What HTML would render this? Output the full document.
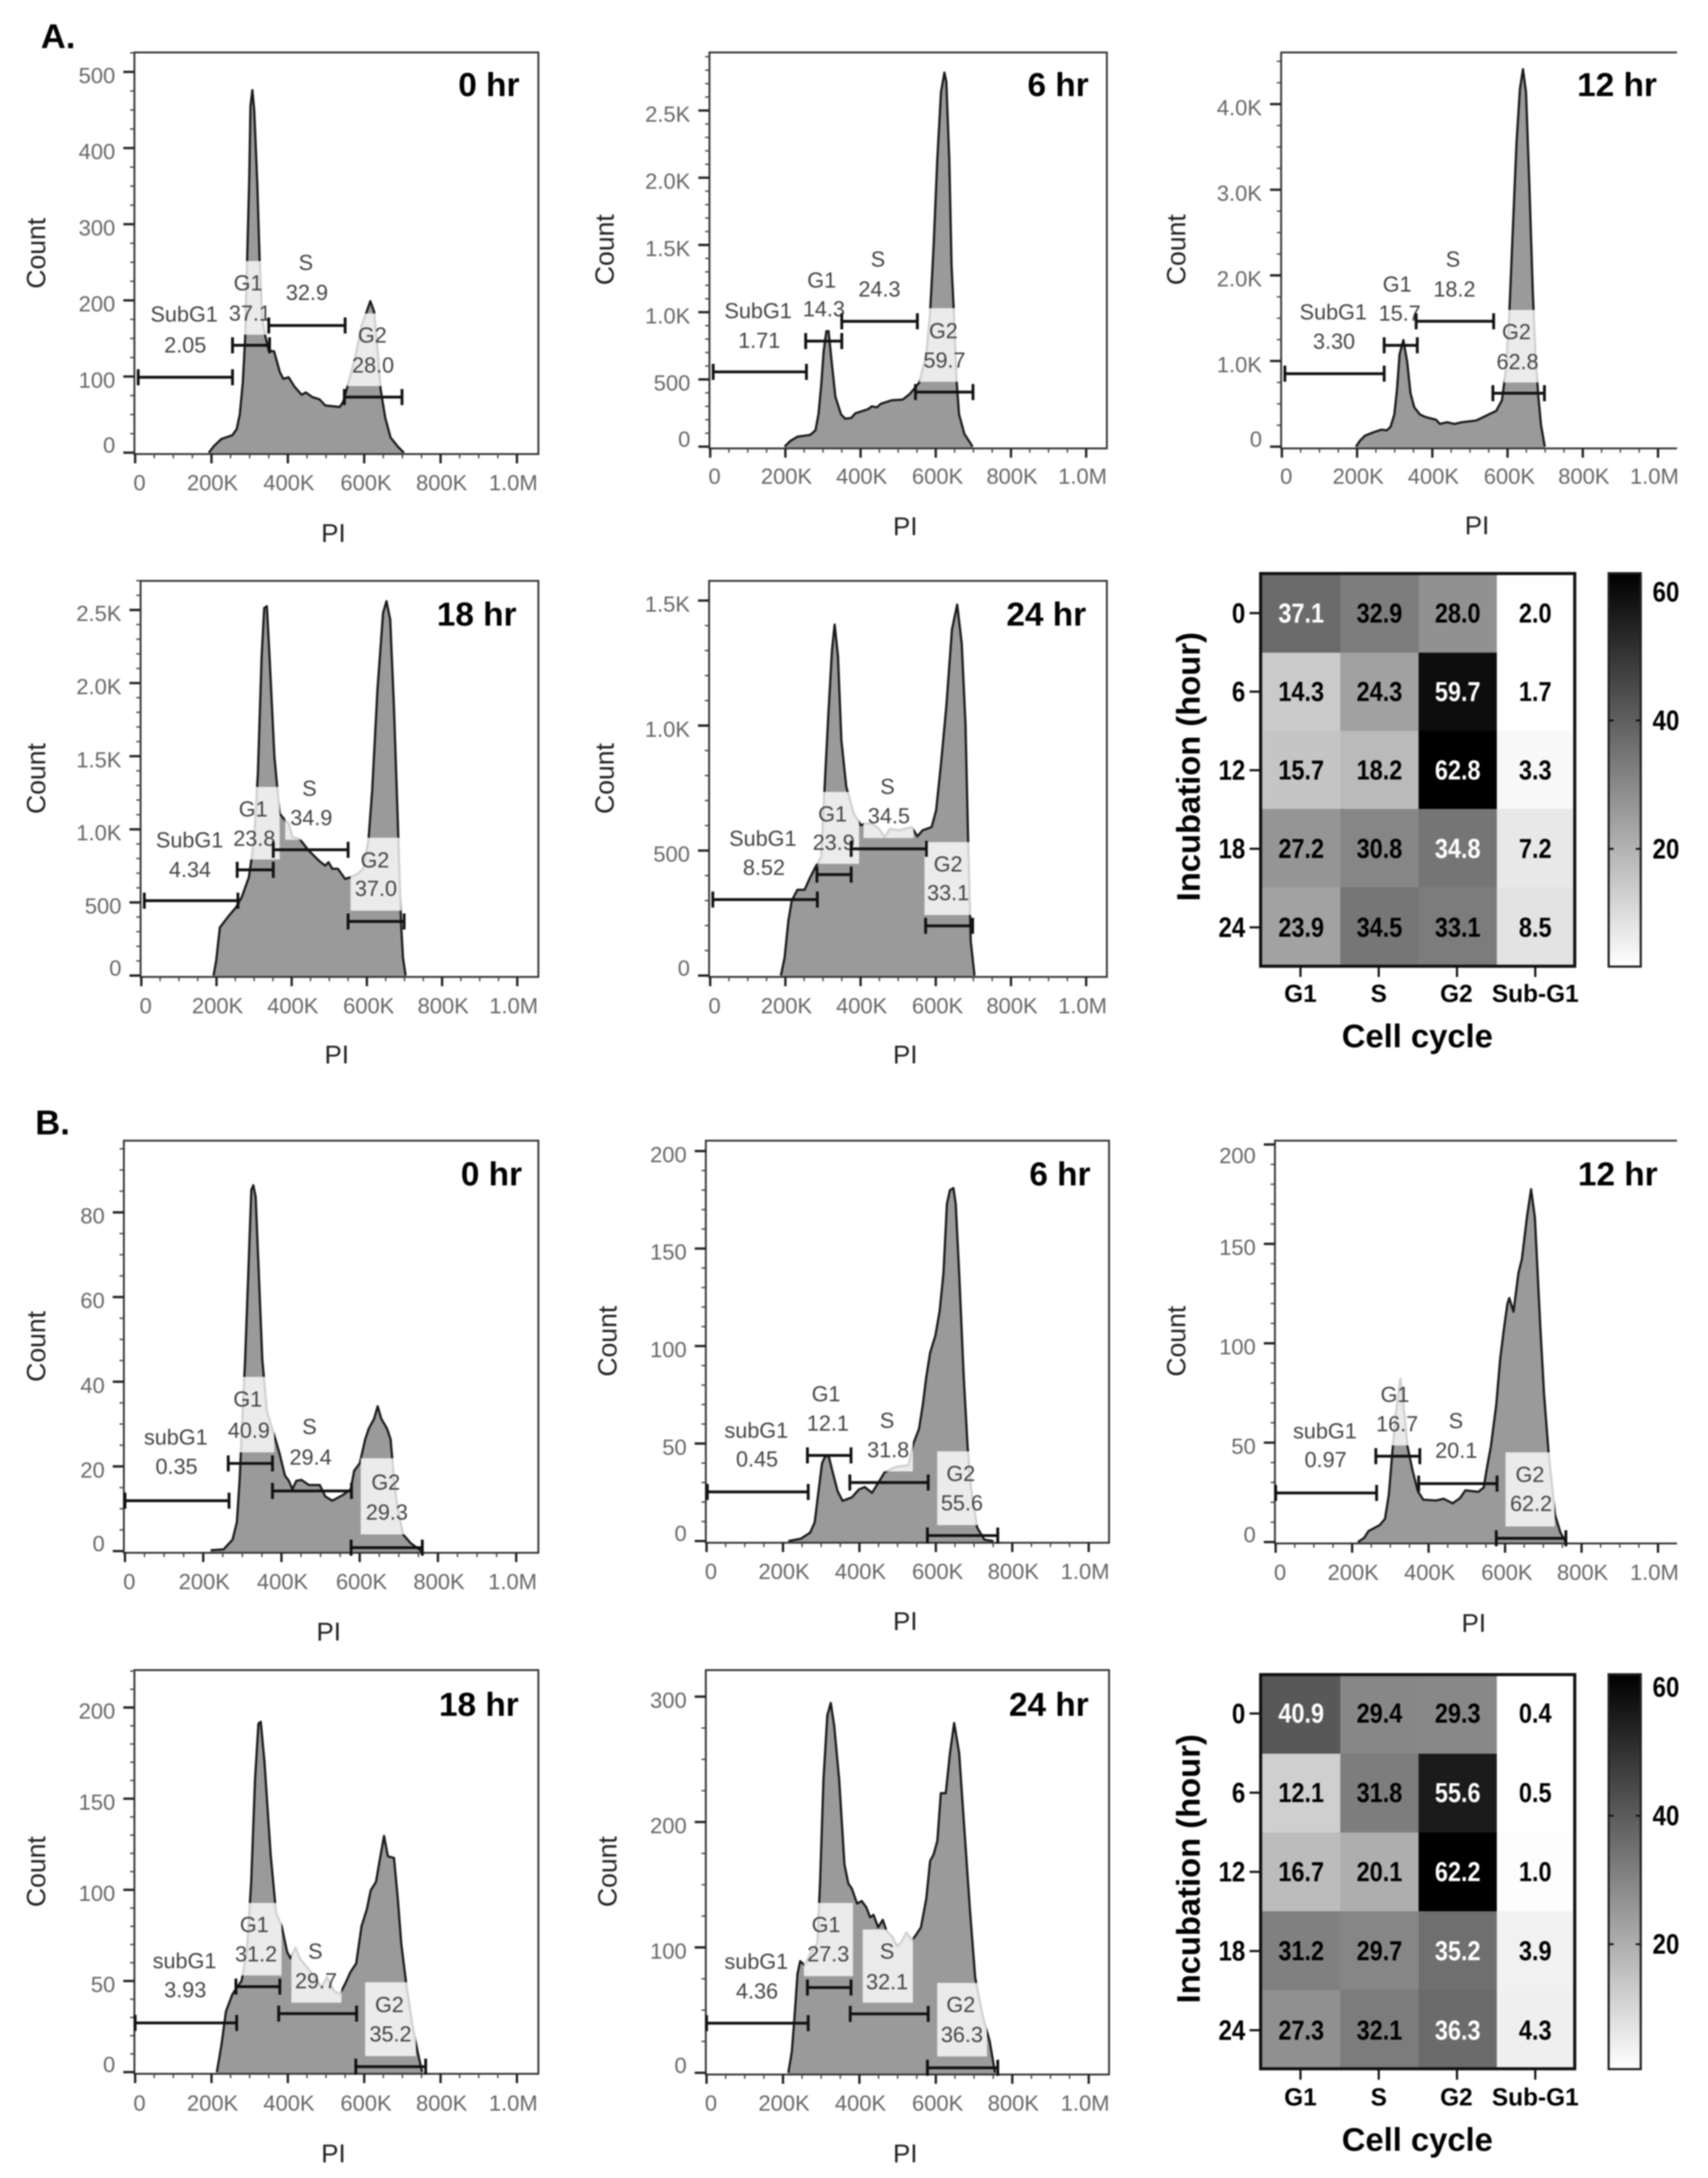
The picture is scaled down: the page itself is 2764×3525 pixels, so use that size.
<!DOCTYPE html>
<html lang="en">
<head>
<meta charset="utf-8">
<title>Cell cycle histograms and heatmaps</title>
<style>
html,body{margin:0;padding:0;background:#fff;}
svg{display:block;filter:blur(1.05px);font-family:"Liberation Sans",Arial,sans-serif;}
</style>
</head>
<body>
<svg id="fig" xmlns="http://www.w3.org/2000/svg" width="2764" height="3525" viewBox="0 0 2764 3525">
<defs>
<linearGradient id="cbGrad" x1="0" y1="1" x2="0" y2="0">
<stop offset="0" stop-color="#ffffff"/>
<stop offset="1" stop-color="#000000"/>
</linearGradient>
</defs>
<rect x="0" y="0" width="2764" height="3525" fill="#ffffff"/>
<text x="66" y="78" font-size="56" font-weight="700" fill="#000">A.</text>
<text x="57" y="1836" font-size="56" font-weight="700" fill="#000">B.</text>
</svg>
<script>
/* ---------- shared axis data ---------- */
const xTicks=[0,200,400,600,800,1000];
const xTickLabels=['0','200K','400K','600K','800K','1.0M'];

/* ---------- panel A histograms ---------- */
const a0Pi=[193,207,226,255,266,274,282,288,293,299,302,307,312,320,326,333,341,350,364,379,388,402,417,436,447,464,483,498,536,545,555,578,593,605,616,626,636,643,655,669,688,704];
const a0Count=[0,9,18,23,31,50,92,148,246,362,455,476,450,353,255,176,153,134,133,106,97,99,87,76,79,73,70,62,60,67,85,129,167,183,199,185,129,83,46,20,8,0];
const a0YTicks=[0,100,200,300,400,500];
const a0YLabels=['0','100','200','300','400','500'];
const a0GateNames=['SubG1','G1','S','G2'];
const a0GatePct=['2.05','37.1','32.9','28.0'];
const a0GateFrom=[8,255,350,548];
const a0GateTo=[255,352,550,699];
const a0GateLevel=[99,141,167,73];

const a6Pi=[198,213,232,266,280,288,295,302,309,315,324,333,348,359,375,386,420,430,443,454,483,512,531,556,575,585,594,604,614,623,628,636,642,649,655,662,676,698];
const a6Count=[0,42,74,87,121,240,450,714,859,859,608,371,240,208,213,248,279,300,292,319,345,350,392,477,688,1004,1478,2136,2637,2782,2716,2136,1346,951,503,240,95,0];
const a6YTicks=[0,500,1000,1500,2000,2500];
const a6YLabels=['0','500','1.0K','1.5K','2.0K','2.5K'];
const a6GateNames=['SubG1','G1','S','G2'];
const a6GatePct=['1.71','14.3','24.3','59.7'];
const a6GateFrom=[8,254,350,546];
const a6GateTo=[256,350,551,699];
const a6GateLevel=[556,785,932,406];

const a12Pi=[197,207,221,245,265,279,289,299,306,313,323,333,342,352,367,381,410,420,439,459,478,517,546,570,585,595,604,614,624,633,641,649,658,667,674,682,689,699];
const a12Count=[0,66,128,170,198,190,232,376,666,1079,1245,997,624,459,376,347,314,265,285,265,285,306,368,418,542,873,1493,2527,3561,4181,4408,4140,3065,1824,1079,583,252,0];
const a12YTicks=[0,1000,2000,3000,4000];
const a12YLabels=['0','1.0K','2.0K','3.0K','4.0K'];
const a12GateNames=['SubG1','G1','S','G2'];
const a12GatePct=['3.30','15.7','18.2','62.8'];
const a12GateFrom=[8,272,357,561];
const a12GateTo=[272,360,563,698];
const a12GateLevel=[852,1183,1464,624];

const a18Pi=[192,199,209,233,252,267,286,300,310,320,327,334,341,354,368,383,392,402,421,445,474,489,498,508,523,542,556,575,590,604,614,628,643,652,662,672,681,691,696,703];
const a18Count=[0,100,329,409,467,535,672,924,1382,2182,2514,2525,2182,1496,1107,1061,1038,947,935,855,782,752,775,730,730,661,672,695,730,924,1267,1953,2480,2560,2434,1839,1153,352,124,0];
const a18YTicks=[0,500,1000,1500,2000,2500];
const a18YLabels=['0','500','1.0K','1.5K','2.0K','2.5K'];
const a18GateNames=['SubG1','G1','S','G2'];
const a18GatePct=['4.34','23.8','34.9','37.0'];
const a18GateFrom=[8,255,351,550];
const a18GateTo=[257,351,550,699];
const a18GateLevel=[512,723,860,370];

const a24Pi=[188,198,208,217,232,251,266,280,295,304,314,324,331,340,349,362,382,401,411,430,449,464,478,502,536,551,565,589,601,614,628,643,657,669,679,686,693,703];
const a24Count=[0,72,219,300,343,343,393,434,474,741,1036,1303,1404,1277,942,755,648,601,608,608,587,554,587,581,594,557,581,594,661,848,1076,1384,1484,1330,1009,541,139,0];
const a24YTicks=[0,500,1000,1500];
const a24YLabels=['0','500','1.0K','1.5K'];
const a24GateNames=['SubG1','G1','S','G2'];
const a24GatePct=['8.52','23.9','34.5','33.1'];
const a24GateFrom=[7,284,375,573];
const a24GateTo=[285,375,575,698];
const a24GateLevel=[304,404,507,199];

/* ---------- panel B histograms ---------- */
const b0Pi=[219,252,275,286,293,301,307,317,323,328,334,342,351,363,382,395,409,419,428,438,451,470,498,512,530,558,577,586,600,614,623,637,646,655,670,679,688,697,711,730,758];
const b0Count=[0.2,0.4,2.7,6.8,16.6,33,45,70,85.3,86.4,83.7,65.7,45.2,33,27.2,23.1,17.8,16.6,14.6,16.6,16.8,15.6,15.6,12.9,11.9,13.3,14.6,19,20.7,26.4,28.9,31.3,34.2,31.3,28.9,26.4,16.6,10,3.9,1.9,0];
const b0YTicks=[0,20,40,60,80];
const b0YLabels=['0','20','40','60','80'];
const b0GateNames=['subG1','G1','S','G2'];
const b0GatePct=['0.35','40.9','29.4','29.3'];
const b0GateFrom=[0,264,377,578];
const b0GateTo=[266,377,579,760];
const b0GateLevel=[11.9,20.7,14.2,0.8];

const b6Pi=[214,247,271,283,293,302,311,320,329,343,356,380,399,414,433,447,466,494,528,542,556,566,575,585,599,610,620,629,637,646,652,661,673,683,692,708,727,751];
const b6Count=[0,1.2,4.3,9.6,25.6,39.8,43.7,43.3,36.2,25.6,20.6,22.4,26.5,27.7,24.7,29.1,35.3,38,38.9,50.4,57.5,70,84.2,96.6,105.5,118,137.5,173,180,181,173,137.5,84,48.7,27.4,7,0.7,0];
const b6YTicks=[0,50,100,150,200];
const b6YLabels=['0','50','100','150','200'];
const b6GateNames=['subG1','G1','S','G2'];
const b6GatePct=['0.45','12.1','31.8','55.6'];
const b6GateFrom=[2,264,375,578];
const b6GateTo=[266,378,580,762];
const b6GateLevel=[25.2,43.9,30,2.8];

const b12Pi=[215,231,243,272,286,296,305,315,326,336,345,358,372,386,420,439,463,482,496,530,544,553,563,577,587,596,606,611,622,635,644,657,668,678,692,702,714,731,745,759];
const b12Count=[0,2,5.6,8.5,11.7,23.9,44.8,65.7,82.2,65.7,48,36,25.6,21.3,20.9,21.8,19.5,22.1,26,25.3,27.4,37.8,48.3,69.2,91.8,105.7,119.7,122.8,115.9,135.4,142.3,163.2,177.5,163.2,109.2,74.4,44.8,13.4,4.7,0];
const b12YTicks=[0,50,100,150,200];
const b12YLabels=['0','50','100','150','200'];
const b12GateNames=['subG1','G1','S','G2'];
const b12GatePct=['0.97','16.7','20.1','62.2'];
const b12GateFrom=[0,262,374,577];
const b12GateTo=[264,377,579,759];
const b12GateLevel=[24.7,43.2,29.4,1.9];

const b18Pi=[214,226,238,255,279,293,304,314,323,329,339,355,369,384,398,407,420,431,450,474,488,502,521,536,550,564,579,593,607,617,631,640,652,662,678,688,697,710,726,740,752];
const b18Count=[0,14.8,33.4,42.8,50.2,67,104.4,160.4,191.2,192.2,169.8,119.3,87.6,80,66,62.4,68.3,62.4,57.7,51.2,46.5,52.1,44.6,42.8,48.4,54.9,59.6,80.1,89.4,99.7,104.4,115.6,129.6,118.4,117.5,95,70.8,48.4,26,11,0];
const b18YTicks=[0,50,100,150,200];
const b18YLabels=['0','50','100','150','200'];
const b18GateNames=['subG1','G1','S','G2'];
const b18GatePct=['3.93','31.2','29.7','35.2'];
const b18GateFrom=[0,264,376,578];
const b18GateTo=[266,379,580,761];
const b18GateLevel=[27,46.9,32.1,3];

const b24Pi=[214,223,230,238,245,257,271,290,297,306,316,325,334,347,361,371,380,394,406,418,428,437,449,461,471,485,499,509,523,537,546,561,575,585,594,604,613,626,637,648,661,675,689,703,722,741,755];
const b24Count=[0,16.6,43.7,79,89,85.8,95,103.5,152,234,285,295,277,234,166,151,147,135,137,132,124,126,116,122,113,109,101,104,112,106,109,116,139,169,174,185,223,223,255,279,255,193,131,76,46,25,0];
const b24YTicks=[0,100,200,300];
const b24YLabels=['0','100','200','300'];
const b24GateNames=['subG1','G1','S','G2'];
const b24GatePct=['4.36','27.3','32.1','36.3'];
const b24GateFrom=[0,264,376,578];
const b24GateTo=[266,378,580,762];
const b24GateLevel=[39.6,68,47,4];

/* ---------- heatmaps ---------- */
const hmColumns=['G1','S','G2','Sub-G1'];
const hmRows=['0','6','12','18','24'];
const hmAG1=[37.1,14.3,15.7,27.2,23.9];
const hmAS=[32.9,24.3,18.2,30.8,34.5];
const hmAG2=[28.0,59.7,62.8,34.8,33.1];
const hmASub=[2.0,1.7,3.3,7.2,8.5];
const hmBG1=[40.9,12.1,16.7,31.2,27.3];
const hmBS=[29.4,31.8,20.1,29.7,32.1];
const hmBG2=[29.3,55.6,62.2,35.2,36.3];
const hmBSub=[0.4,0.5,1.0,3.9,4.3];
const colorbarTicks=[20,40,60];

/* ---------- layout (crop frames, not data) ---------- */
const layoutA0={crop:[0,0,920,900],frame:[370,148,1482,1282],x0:372,x1:1423,y0:1278,yRef:203,yRefVal:500,minor:25,xLabY:1363,
 title:['0 hr',1430,240],count:[100,715],pi:[918,1505],
 labels:[[507,888,510,975],[683,800,688,885],[842,742,845,827],[1025,947,1027,1032]],
 boxes:[[630,737,745,945],[955,885,1095,1090]]};
const layoutA6={crop:[920,0,920,900],frame:[388,148,1482,1266],x0:390,x1:1425,y0:1261,yRef:312,yRefVal:2500,minor:100,xLabY:1345,
 title:['6 hr',1432,240],count:[100,705],pi:[927,1485],
 labels:[[522,878,525,962],[697,792,703,873],[852,733,856,817],[1032,935,1035,1018]],
 boxes:[[965,870,1090,1078]]};
const layoutA12={crop:[1840,0,924,900],frame:[395,148,1480,1266],x0:397,x1:1428,y0:1261,yRef:294,yRefVal:4000,minor:250,xLabY:1345,openRight:true,
 title:['12 hr',1425,240],count:[108,705],pi:[932,1483],
 labels:[[538,882,540,965],[713,803,720,885],[866,733,870,817],[1040,938,1043,1022]],
 boxes:[[1005,875,1100,1080]]};
const layoutA18={crop:[0,900,920,850],frame:[387,74,1482,1258],x0:389,x1:1424,y0:1254,yRef:161,yRefVal:2500,minor:100,xLabY:1345,
 title:['18 hr',1422,175],count:[100,665],pi:[927,1490],
 labels:[[522,850,523,938],[697,757,700,845],[852,695,857,783],[1032,910,1035,995]],
 boxes:[[642,690,770,907],[785,670,920,848],[965,842,1105,1060]]};
const layoutA24={crop:[920,900,920,850],frame:[387,74,1482,1258],x0:390,x1:1425,y0:1254,yRef:133,yRefVal:1500,minor:100,xLabY:1345,
 title:['24 hr',1425,175],count:[100,665],pi:[927,1490],
 labels:[[535,845,538,932],[727,772,730,857],[878,690,882,778],[1045,922,1045,1008]],
 boxes:[[680,705,800,920],[812,780,950,843],[980,855,1110,1073]]};
const layoutB0={crop:[0,1780,920,880],frame:[341,118,1482,1308],x0:344,x1:1421,y0:1303,yRef:325,yRefVal:80,minor:5,xLabY:1392,
 title:['0 hr',1437,215],count:[100,712],pi:[905,1535],
 labels:[[484,975,486,1060],[682,865,685,955],[852,945,855,1033],[1062,1105,1065,1192]],
 boxes:[[620,800,755,1018],[993,1035,1130,1255]]};
const layoutB6={crop:[920,1780,920,880],frame:[378,118,1488,1279],x0:380,x1:1432,y0:1274,yRef:148,yRefVal:200,minor:10,xLabY:1362,
 title:['6 hr',1437,215],count:[108,697],pi:[927,1505],
 labels:[[517,955,519,1038],[709,850,714,935],[877,927,880,1012],[1080,1080,1083,1165]],
 boxes:[[820,960,948,1073],[1015,1015,1150,1228]]};
const layoutB12={crop:[1840,1780,924,880],frame:[378,118,1480,1281],x0:380,x1:1428,y0:1277,yRef:129,yRefVal:200,minor:10,xLabY:1365,openRight:true,topLabelNudge:12,
 title:['12 hr',1427,215],count:[108,697],pi:[923,1510],
 labels:[[515,957,517,1040],[707,852,713,937],[874,928,875,1013],[1077,1083,1080,1167]],
 boxes:[[650,800,775,998],[1010,1018,1145,1232]]};
const layoutB18={crop:[0,2660,920,865],frame:[370,78,1482,1264],x0:372,x1:1423,y0:1259,yRef:188,yRefVal:200,minor:10,xLabY:1350,
 title:['18 hr',1428,180],count:[100,670],pi:[918,1497],
 labels:[[508,933,510,1018],[700,827,705,913],[868,905,870,992],[1072,1062,1075,1148]],
 boxes:[[645,762,775,975],[802,840,940,1055],[1005,995,1145,1212]]};
const layoutB24={crop:[920,2660,920,865],frame:[378,78,1488,1266],x0:380,x1:1432,y0:1261,yRef:156,yRefVal:300,minor:25,xLabY:1350,
 title:['24 hr',1432,180],count:[108,670],pi:[927,1497],
 labels:[[517,935,519,1022],[709,827,715,913],[877,905,877,995],[1080,1062,1083,1150]],
 boxes:[[648,762,783,977],[810,840,948,1055],[1015,997,1152,1213]]};
const xLabelNudge=[12,3,3,5,3,-10];
const ZOOMX=1565;
const ZOOMY=1570;

const histograms=[
 {id:'a-0hr',L:layoutA0,pi:a0Pi,count:a0Count,yTicks:a0YTicks,yLabels:a0YLabels,names:a0GateNames,pct:a0GatePct,from:a0GateFrom,to:a0GateTo,level:a0GateLevel},
 {id:'a-6hr',L:layoutA6,pi:a6Pi,count:a6Count,yTicks:a6YTicks,yLabels:a6YLabels,names:a6GateNames,pct:a6GatePct,from:a6GateFrom,to:a6GateTo,level:a6GateLevel},
 {id:'a-12hr',L:layoutA12,pi:a12Pi,count:a12Count,yTicks:a12YTicks,yLabels:a12YLabels,names:a12GateNames,pct:a12GatePct,from:a12GateFrom,to:a12GateTo,level:a12GateLevel},
 {id:'a-18hr',L:layoutA18,pi:a18Pi,count:a18Count,yTicks:a18YTicks,yLabels:a18YLabels,names:a18GateNames,pct:a18GatePct,from:a18GateFrom,to:a18GateTo,level:a18GateLevel},
 {id:'a-24hr',L:layoutA24,pi:a24Pi,count:a24Count,yTicks:a24YTicks,yLabels:a24YLabels,names:a24GateNames,pct:a24GatePct,from:a24GateFrom,to:a24GateTo,level:a24GateLevel},
 {id:'b-0hr',L:layoutB0,pi:b0Pi,count:b0Count,yTicks:b0YTicks,yLabels:b0YLabels,names:b0GateNames,pct:b0GatePct,from:b0GateFrom,to:b0GateTo,level:b0GateLevel},
 {id:'b-6hr',L:layoutB6,pi:b6Pi,count:b6Count,yTicks:b6YTicks,yLabels:b6YLabels,names:b6GateNames,pct:b6GatePct,from:b6GateFrom,to:b6GateTo,level:b6GateLevel},
 {id:'b-12hr',L:layoutB12,pi:b12Pi,count:b12Count,yTicks:b12YTicks,yLabels:b12YLabels,names:b12GateNames,pct:b12GatePct,from:b12GateFrom,to:b12GateTo,level:b12GateLevel},
 {id:'b-18hr',L:layoutB18,pi:b18Pi,count:b18Count,yTicks:b18YTicks,yLabels:b18YLabels,names:b18GateNames,pct:b18GatePct,from:b18GateFrom,to:b18GateTo,level:b18GateLevel},
 {id:'b-24hr',L:layoutB24,pi:b24Pi,count:b24Count,yTicks:b24YTicks,yLabels:b24YLabels,names:b24GateNames,pct:b24GatePct,from:b24GateFrom,to:b24GateTo,level:b24GateLevel}
];

const NS='http://www.w3.org/2000/svg';
const fig=document.getElementById('fig');
function mk(tag,attrs,parent){
  const e=document.createElementNS(NS,tag);
  for(const k in attrs){e.setAttribute(k,attrs[k]);}
  parent.appendChild(e);
  return e;
}
function txt(parent,str,x,y,size,fill,anchor,weight,transform){
  const a={x:x,y:y,'font-size':size,fill:fill,'text-anchor':anchor||'middle','dominant-baseline':'central','font-weight':weight||400};
  if(transform){a.x=0;a.y=0;a.transform=transform;}
  const e=mk('text',a,parent);
  e.textContent=str;
  return e;
}

function drawHistogram(h){
  const L=h.L;
  const zx=v=>L.crop[0]+v*L.crop[2]/ZOOMX;
  const zy=v=>L.crop[1]+v*L.crop[3]/ZOOMY;
  const x=v=>zx(L.x0+v*(L.x1-L.x0)/1000);
  const y=v=>zy(L.y0+v*(L.yRef-L.y0)/L.yRefVal);
  const fl=zx(L.frame[0]),ft=zy(L.frame[1]),fr=zx(L.frame[2]),fb=zy(L.frame[3]);

  const g=mk('g',{},fig);
  
  

  let d='M'+x(h.pi[0]).toFixed(1)+' '+y(h.count[0]).toFixed(1);
  for(let i=1;i<h.pi.length;i++){d+=' L'+x(h.pi[i]).toFixed(1)+' '+y(h.count[i]).toFixed(1);}
  const base=fb.toFixed(1);
  const area=mk('path',{d:d+' L'+x(h.pi[h.pi.length-1]).toFixed(1)+' '+base+' L'+x(h.pi[0]).toFixed(1)+' '+base+' Z',fill:'#9a9a9a',stroke:'none'},g);
  
  
  const line=mk('path',{d:d,fill:'none',stroke:'#1a1a1a','stroke-width':3.6,'stroke-linejoin':'round'},g);
  
  

  L.boxes.forEach(b=>{
    const box=mk('rect',{x:zx(b[0]),y:zy(b[1]),width:zx(b[2])-zx(b[0]),height:zy(b[3])-zy(b[1]),fill:'#ffffff','fill-opacity':0.8},g);
    
    
  });

  const frameD='M'+fr+' '+ft+' L'+fl+' '+ft+' L'+fl+' '+fb+' L'+fr+' '+fb+(L.openRight?'':' Z');
  const frame=mk('path',{d:frameD,fill:'none',stroke:'#333','stroke-width':3},g);
  
  

  // y axis
  for(let v=0;y(v)>=ft-1;v+=L.minor){
    if(h.yTicks.indexOf(v)>=0)continue;
    const tk=mk('line',{x1:fl-7,x2:fl,y1:y(v),y2:y(v),stroke:'#444','stroke-width':2.2},g);
    
    
  }
  h.yTicks.forEach((v,i)=>{
    const tk=mk('line',{x1:fl-18,x2:fl,y1:y(v),y2:y(v),stroke:'#222','stroke-width':3.8},g);
    
    
    let off=v===0?-12:6;
    if(L.topLabelNudge&&i===h.yTicks.length-1){off+=L.topLabelNudge;}
    const t=txt(g,h.yLabels[i],fl-31,y(v)+off,35.5,'#666','end');
    
    
  });

  // x axis
  for(let v=0;v<=1000;v+=50){
    if(xTicks.indexOf(v)>=0)continue;
    const tk=mk('line',{x1:x(v),x2:x(v),y1:fb,y2:fb+7,stroke:'#444','stroke-width':2.2},g);
    
    
  }
  xTicks.forEach((v,i)=>{
    const tk=mk('line',{x1:x(v),x2:x(v),y1:fb,y2:fb+15,stroke:'#222','stroke-width':3.8},g);
    
    
    const t=txt(g,xTickLabels[i],x(v)+xLabelNudge[i]*L.crop[2]/ZOOMX,zy(L.xLabY),35.5,'#666');
    
    
  });

  // gates
  h.names.forEach((n,i)=>{
    const gx1=x(h.from[i]),gx2=x(h.to[i]),gy=y(h.level[i]);
    const gate=mk('path',{d:'M'+gx1+' '+(gy-13)+' V'+(gy+13)+' M'+gx1+' '+gy+' H'+gx2+' M'+gx2+' '+(gy-13)+' V'+(gy+13),fill:'none',stroke:'#111','stroke-width':4.6},g);
    
    
    const p=L.labels[i];
    const tn=txt(g,n,zx(p[0]),zy(p[1]),35,'#444');
    
    
    const tp=txt(g,h.pct[i],zx(p[2]),zy(p[3]),35,'#444');
    
    
  });

  const title=txt(g,L.title[0],zx(L.title[1]),zy(L.title[2]),54,'#000','end',700);
  
  
  const cx=zx(L.count[0]),cy=zy(L.count[1]);
  const count=txt(g,'Count',0,0,43,'#222','middle',400,'translate('+cx+' '+cy+') rotate(-90)');
  
  
  const pi=txt(g,'PI',zx(L.pi[0]),zy(L.pi[1]),42,'#222');
  
  
}
histograms.forEach(drawHistogram);

/* ---------- heatmaps ---------- */
const HEAT_ZOOMY=1566;
const heatA={id:'a',crop:[1857.5,900,904,850],top:48,bottom:1227,cellTop:55,cellBottom:1220,rowY0:170,rowY1:1107,cb20:873,cb60:107,xLabY:1305,xTitleY:1432,yTitleY:628,series:[hmAG1,hmAS,hmAG2,hmASub]};
const heatB={id:'b',crop:[1857.5,2660,904,865],top:87,bottom:1250,cellTop:92,cellBottom:1246,rowY0:205,rowY1:1133,cb20:881,cb60:128,xLabY:1330,xTitleY:1455,yTitleY:660,series:[hmBG1,hmBS,hmBG2,hmBSub]};

function drawHeat(H){
  const zx=v=>H.crop[0]+v*H.crop[2]/ZOOMX;
  const zy=v=>H.crop[1]+v*H.crop[3]/HEAT_ZOOMY;
  const g=mk('g',{},fig);
  
  
  const all=[].concat.apply([],H.series);
  const vmin=Math.min.apply(null,all),vmax=Math.max.apply(null,all);
  const shade=v=>{const c=Math.round(255*(1-(v-vmin)/(vmax-vmin)));return 'rgb('+c+','+c+','+c+')';};
  const left=320,right=1197;
  const bw=(right-left)/hmColumns.length;
  const bh=(H.cellBottom-H.cellTop)/hmRows.length;
  const colX=j=>left+bw*j;
  const rowY=i=>H.cellTop+bh*i;
  const stretch='scale(1 1.16)';
  hmColumns.forEach((c,j)=>{
    hmRows.forEach((r,i)=>{
      const v=H.series[j][i];
      const cell=mk('rect',{x:zx(colX(j)),y:zy(rowY(i)),width:zx(colX(j+1))-zx(colX(j))+0.5,height:zy(rowY(i+1))-zy(rowY(i))+0.5,fill:shade(v)},g);
      
      
      const tx=zx(colX(j)+bw/2+(j===3?-2:0)),ty=zy(H.rowY0+(H.rowY1-H.rowY0)*i/4);
      const t=txt(g,v.toFixed(1),0,0,38,v>34.6?'#fff':'#000','middle',700,'translate('+tx+' '+ty+') '+stretch);
      
      
    });
  });
  const frame=mk('rect',{x:zx(316),y:zy(H.top+4),width:zx(1196)-zx(316),height:zy(H.bottom-4)-zy(H.top+4),fill:'none',stroke:'#111','stroke-width':5},g);
  
  

  hmRows.forEach((r,i)=>{
    const ty=zy(H.rowY0+(H.rowY1-H.rowY0)*i/4);
    const tk=mk('line',{x1:zx(285),x2:zx(312),y1:ty,y2:ty,stroke:'#111','stroke-width':3.5},g);
    
    
    const t=txt(g,r,0,0,39,'#000','end',700,'translate('+zx(273)+' '+ty+') '+stretch);
    
    
  });
  hmColumns.forEach((c,j)=>{
    const tx=zx(colX(j)+bw/2-2);
    const tk=mk('line',{x1:tx,x2:tx,y1:zy(H.bottom),y2:zy(H.bottom+28),stroke:'#111','stroke-width':3.5},g);
    
    
    const t=txt(g,c,tx-(j===2?1:0),zy(H.xLabY),39.5,'#000','middle',700);
    
    
  });
  const xt=txt(g,'Cell cycle',zx(755),zy(H.xTitleY),53,'#000','middle',700);
  
  
  const yt=txt(g,'Incubation (hour)',0,0,53,'#000','middle',700,'translate('+zx(115)+' '+zy(H.yTitleY)+') rotate(-90)');
  
  

  const bar=mk('rect',{x:zx(1291),y:zy(H.top+3),width:zx(1381)-zx(1291),height:zy(H.bottom-3)-zy(H.top+3),fill:'url(#cbGrad)',stroke:'#222','stroke-width':3.5},g);
  
  
  const cbY=v=>zy(H.cb20+(v-20)*(H.cb60-H.cb20)/40);
  colorbarTicks.forEach(v=>{
    if(v!==60){
      const tkL=mk('line',{x1:zx(1291),x2:zx(1305),y1:cbY(v),y2:cbY(v),stroke:'#111','stroke-width':3},g);
      
      
      const tkR=mk('line',{x1:zx(1367),x2:zx(1381),y1:cbY(v),y2:cbY(v),stroke:'#111','stroke-width':3},g);
      
      
    }
    const t=txt(g,String(v),0,0,39,'#000','start',700,'translate('+zx(1414)+' '+cbY(v)+') '+stretch);
    
    
  });
}
drawHeat(heatA);
drawHeat(heatB);
</script>
</body>
</html>
